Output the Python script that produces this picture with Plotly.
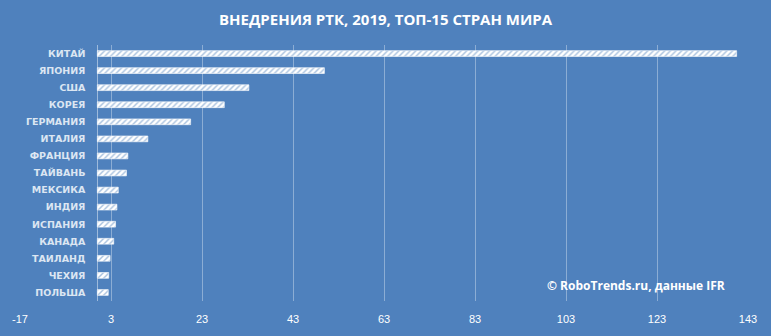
import plotly.graph_objects as go

countries = ["КИТАЙ", "ЯПОНИЯ", "США", "КОРЕЯ", "ГЕРМАНИЯ", "ИТАЛИЯ", "ФРАНЦИЯ",
             "ТАЙВАНЬ", "МЕКСИКА", "ИНДИЯ", "ИСПАНИЯ", "КАНАДА", "ТАИЛАНД", "ЧЕХИЯ", "ПОЛЬША"]
installs = [140.5, 49.9, 33.3, 27.9, 20.5, 11.1, 6.7, 6.4, 4.6, 4.3, 4.0, 3.6, 2.8, 2.5, 2.4]
tick_vals = [-17, 3, 23, 43, 63, 83, 103, 123, 143]
grid_vals = [3, 23, 43, 63, 83, 103, 123]

BG = "#4f81bd"

fig = go.Figure(go.Bar(
    x=installs,
    y=countries,
    orientation="h",
    marker=dict(
        color="white",
        line=dict(color="white", width=0.6),
        pattern=dict(shape="/", fgcolor=BG, bgcolor="white", size=4, solidity=0.35),
    ),
    hoverinfo="x+y",
))

fig.update_layout(
    width=771, height=336,
    paper_bgcolor=BG, plot_bgcolor=BG,
    margin=dict(l=20, r=23, t=45, b=35),
    bargap=0.66,
    showlegend=False,
    title=dict(
        text="<b>ВНЕДРЕНИЯ РТК, 2019, ТОП-15 СТРАН МИРА</b>",
        x=0.5, xanchor="center", y=1 - 20 / 336, yanchor="middle", yref="container",
        font=dict(family="Open Sans", size=15, color="white"),
    ),
    xaxis=dict(
        range=[-17, 143],
        tickvals=tick_vals,
        ticktext=[str(v) for v in tick_vals],
        showgrid=False,
        zeroline=True, zerolinecolor="rgba(255,255,255,0.45)", zerolinewidth=1,
        showline=False,
        ticks="outside", ticklen=8, tickcolor="rgba(0,0,0,0)",
        tickfont=dict(family="Liberation Sans", size=11, color="white"),
        minor=dict(tickvals=grid_vals, showgrid=True,
                   gridcolor="rgba(255,255,255,0.35)", gridwidth=1, ticks=""),
        fixedrange=True,
    ),
    yaxis=dict(
        autorange="reversed",
        anchor="free", position=17 / 160,
        showgrid=False, showline=False, zeroline=False,
        ticks="outside", ticklen=10, tickcolor="rgba(0,0,0,0)",
        tickfont=dict(family="DejaVu Sans", size=9.5, color="#dce6f2"),
        tickprefix="<b>", ticksuffix="</b>",
        fixedrange=True,
    ),
    annotations=[dict(
        text="<b>© RoboTrends.ru, данные IFR</b>",
        xref="paper", yref="paper", x=(636 - 20) / 728, y=(301 - 285) / 256,
        xanchor="center", yanchor="middle", showarrow=False,
        font=dict(family="Open Sans", size=12, color="white"),
    )],
)

fig.write_html("out.html")
